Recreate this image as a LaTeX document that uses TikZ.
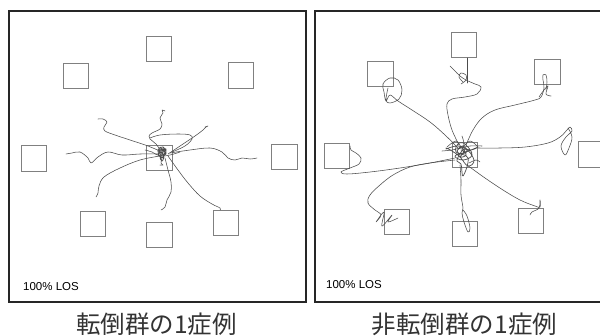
\documentclass[tikz,border=0pt]{standalone}
\usepackage{fontspec}
\setmainfont{Liberation Sans}
\newfontfamily\jpfont{Noto Sans CJK JP}
\begin{document}
\begin{tikzpicture}[x=1pt,y=-1pt,
  panel/.style={draw=black!85, line width=2pt},
  target/.style={draw=black!50, line width=0.75pt, minimum size=25.5pt, inner sep=0pt, outer sep=0pt},
  trace/.style={draw=black!70, line width=0.55pt, line join=round, line cap=round},
  loslabel/.style={anchor=base west, inner sep=0pt, font=\fontsize{11.5}{12}\selectfont},
  caption/.style={anchor=base, inner sep=0pt, font=\jpfont\fontsize{24.5}{26}\selectfont, text=black!80}]
\useasboundingbox (0,0) rectangle (600,335);
\fill[white] (0,0) rectangle (600,335);

% frames of the two panels
\draw[panel] (9,10.5) rectangle (305.5,302);
\draw[panel] (315,10.5) rectangle (610,302);

% targets, left panel
\node[target] (Lt)  at (159,49) {};
\node[target] (Lul) at (76,76) {};
\node[target] (Lur) at (241,75.5) {};
\node[target] (Ll)  at (34,158.5) {};
\node[target] (Lc)  at (159.5,158) {};
\node[target] (Lr)  at (284.5,157) {};
\node[target] (Lll) at (93,224) {};
\node[target] (Llc) at (159.5,235) {};
\node[target] (Llr) at (226,223) {};

% targets, right panel
\node[target] (Rt)  at (464,45) {};
\node[target] (Rul) at (380.5,74) {};
\node[target] (Rur) at (547.5,72) {};
\node[target] (Rl)  at (337,156) {};
\node[target] (Rc)  at (465,155) {};
\node[target] (Rr)  at (591,154.5) {};
\node[target] (Rll) at (397,222) {};
\node[target] (Rlc) at (465,234) {};
\node[target] (Rlr) at (531,221) {};

% sway traces, left panel
\draw[trace] plot[smooth,tension=0.6] coordinates {(162,152) (148,146) (130,140) (115,135) (105,131) (104,127) (107,122) (103,119) (98,119)};
\draw[trace] plot[smooth,tension=0.6] coordinates {(160,150) (156,144) (150,139) (149,136) (152,133) (160,129) (162,124) (160,118) (163,113) (162,110) (165,111)};
\draw[trace] plot[smooth,tension=0.6] coordinates {(150,138) (160,135) (178,134) (190,135) (192,139) (185,146) (172,152)};
\draw[trace] plot[smooth,tension=0.6] coordinates {(168,154) (180,146) (195,136) (203,130) (206,127) (208,126) (205,127)};
\draw[trace] plot[smooth,tension=0.6] coordinates {(158,154) (140,154) (122,155) (108,152) (98,157) (91,163) (88,158) (80,152) (72,153) (66,154)};
\draw[trace] plot[smooth,tension=0.6] coordinates {(170,153) (190,150) (210,148) (222,152) (228,158) (235,160) (242,158) (250,159) (257,158)};
\draw[trace] plot[smooth,tension=0.6] coordinates {(160,156) (140,160) (120,168) (104,177) (99,186) (98,193) (96,197)};
\draw[trace] plot[smooth,tension=0.6] coordinates {(165,158) (168,170) (171,182) (171,192) (167,200) (165,207) (161,210)};
\draw[trace] plot[smooth,tension=0.6] coordinates {(168,156) (178,170) (188,183) (200,196) (212,204) (220,208) (220,210)};
\draw[trace] plot[smooth,tension=0.6] coordinates {(145,150) (152,152) (160,156) (170,155) (180,152)};
% tangle at the start position, left panel
\draw[trace, line width=0.75pt] plot[smooth,tension=0.7] coordinates {(160,148) (165,151) (158,154) (163,157) (166,149) (159,151) (164,155) (161,158) (158,150) (163,147) (166,154) (160,156) (162,161) (164,157)};
\draw[trace, line width=0.75pt] plot[smooth,tension=0.7] coordinates {(159,152) (162,149) (165,153) (161,155) (159,150) (163,151) (162,154)};
\draw[trace] plot[smooth,tension=0.6] coordinates {(162,158) (161,163) (163,165) (160,165)};

% sway traces, right panel
\draw[trace] plot[smooth,tension=0.6] coordinates {(458,148) (445,135) (430,122) (412,110) (398,101) (390,95) (386,101) (384,92) (383,84) (390,78) (398,80) (402,90) (399,99) (390,103) (386,100) (388,88)};
\draw[trace] plot[smooth,tension=0.6] coordinates {(459,145) (452,130) (448,115) (447,104) (452,99) (465,97) (477,94) (481,87) (475,84) (466,80) (460,76) (454,70) (450,66)};
\draw[trace] plot[smooth,tension=0.6] coordinates {(461,84) (466,80) (466,75) (461,73) (459,77) (463,82)};
\draw[trace] (467,58) -- (467,83);
\draw[trace] plot[smooth,tension=0.6] coordinates {(466,145) (473,130) (482,118) (495,110) (515,105) (535,100) (541,97) (544,88) (543,80) (543,75) (546,75) (547,82) (546,90)};
\draw[trace] plot[smooth,tension=0.6] coordinates {(539,97) (544,90) (548,86) (546,94) (551,96)};
\draw[trace] plot[smooth,tension=0.6] coordinates {(478,148) (500,148) (525,147) (548,143) (560,137) (567,130) (570,127) (572,131) (566,137) (561,146) (565,155) (569,148) (572,137) (568,128)};
\draw[trace] plot[smooth,tension=0.6] coordinates {(455,158) (430,163) (400,168) (370,172) (347,174) (341,172) (350,168) (359,164) (361,158) (356,153) (351,150) (350,146)};
\draw[trace] plot[smooth,tension=0.6] coordinates {(455,160) (430,163) (410,167) (393,175) (380,185) (370,195) (368,203) (375,210) (381,215) (376,222) (384,212) (382,226) (392,215) (388,222) (398,218)};
\draw[trace] plot[smooth,tension=0.6] coordinates {(460,165) (461,180) (461,195) (463,208) (462,213) (464,222) (468,232) (470,228) (467,216) (463,210)};
\draw[trace] plot[smooth,tension=0.6] coordinates {(467,165) (485,178) (503,190) (520,200) (535,206) (540,207) (540,200) (539,208) (532,212) (530,215)};
% tangle at the start position, right panel
\draw[trace, line width=0.7pt] plot[smooth,tension=0.7] coordinates {(446,149) (458,146) (470,150) (478,147) (466,152) (455,156) (463,160) (472,155) (466,145) (459,143) (456,152) (468,158) (463,176) (461,164) (457,160) (465,149) (474,160) (468,166) (460,157) (452,151) (446,148)};
\draw[trace] plot[smooth,tension=0.6] coordinates {(447,147) (456,141) (462,147) (470,141) (478,147)};
\draw[trace, line width=0.8pt] plot[smooth,tension=0.7] coordinates {(458,149) (463,146) (467,151) (461,154) (457,151) (462,148) (466,155) (460,157) (464,152) (461,150)};
\draw[trace] plot[smooth,tension=0.6] coordinates {(442,151) (452,150) (460,148) (470,146) (482,146)};
\draw[trace] plot[smooth,tension=0.6] coordinates {(462,136) (464,144) (462,150)};
\draw[trace] plot[smooth,tension=0.6] coordinates {(469,163) (476,160) (480,162)};

% labels
\node[loslabel] (losL) at (23,290.5) {100\% LOS};
\node[loslabel] (losR) at (326,288) {100\% LOS};
\node[caption] (capL) at (156.5,333.5) {転倒群の1症例};
\node[caption] (capR) at (464.5,333.5) {非転倒群の1症例};
\end{tikzpicture}
\end{document}
